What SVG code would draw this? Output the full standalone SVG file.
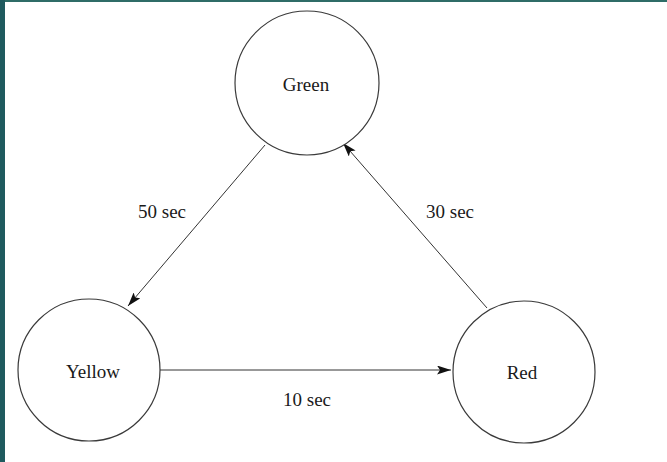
<svg xmlns="http://www.w3.org/2000/svg" width="667" height="462" viewBox="0 0 667 462">
  <style>
    .state circle { fill: #ffffff; stroke: #3a3a3a; stroke-width: 1.2; }
    .label { font-family: "Liberation Serif", "Times New Roman", serif; font-size: 19px; fill: #1a1a1a; text-anchor: middle; }
    .edge { stroke: #333333; stroke-width: 1; fill: none; marker-end: url(#arrow); }
  </style>
  <defs>
    <marker id="arrow" viewBox="0 0 14 9" refX="14" refY="4.5" markerWidth="14" markerHeight="9" markerUnits="userSpaceOnUse" orient="auto">
      <path d="M0,0 L14,4.5 L0,9 L3,4.5 Z" fill="#111111"/>
    </marker>
  </defs>

  <!-- window frame -->
  <rect x="0" y="0" width="667" height="462" fill="#ffffff"/>
  <rect x="0" y="0" width="667" height="2" fill="#2f6c67"/>
  <rect x="0" y="0" width="5" height="462" fill="#1f5a5e"/>

  <!-- transitions -->
  <g id="connectors">
    <line class="edge" x1="265" y1="145" x2="128" y2="306"/>
    <line class="edge" x1="160" y1="370" x2="451" y2="370"/>
    <line class="edge" x1="487" y1="308" x2="343" y2="143"/>
    <text class="label" x="162" y="218">50 sec</text>
    <text class="label" x="450" y="218">30 sec</text>
    <text class="label" x="307" y="406">10 sec</text>
  </g>

  <g id="green" class="state">
    <circle cx="307" cy="83" r="72"/>
    <text class="label" x="306" y="91">Green</text>
  </g>
  <g id="yellow" class="state">
    <circle cx="89" cy="370" r="71"/>
    <text class="label" x="93" y="378">Yellow</text>
  </g>
  <g id="red" class="state">
    <circle cx="524" cy="372" r="71"/>
    <text class="label" x="522" y="379">Red</text>
  </g>
</svg>
